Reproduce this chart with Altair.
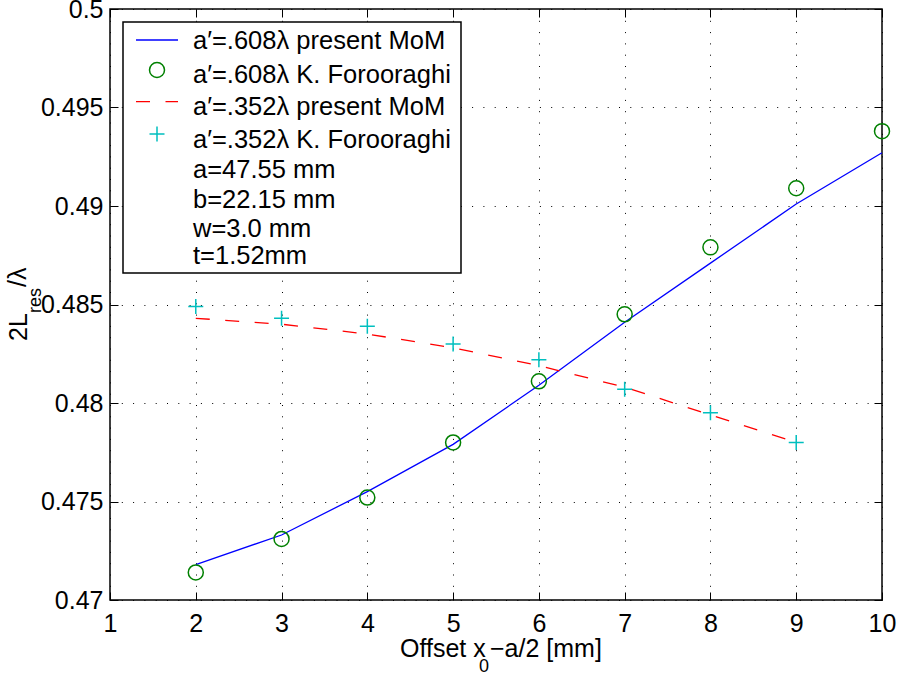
import altair as alt
import pandas as pd

# ---------------- data ----------------
offsets_608 = [2, 3, 4, 5, 6, 7, 8, 9, 10]
mom_608 = [0.4718, 0.4733, 0.4755, 0.4779, 0.4809, 0.4841, 0.4871, 0.4901, 0.4927]
kf_608 = [0.4714, 0.4731, 0.4752, 0.4780, 0.4811, 0.4845, 0.4879, 0.4909, 0.4938]

offsets_352 = [2, 3, 4, 5, 6, 7, 8, 9]
mom_352 = [0.4843, 0.4840, 0.4835, 0.4828, 0.4819, 0.4808, 0.4794, 0.4780]
kf_352 = [0.4849, 0.4843, 0.4839, 0.4830, 0.4822, 0.4807, 0.4795, 0.4780]

x_ticks = [1, 2, 3, 4, 5, 6, 7, 8, 9, 10]
y_ticks = [0.47, 0.475, 0.48, 0.485, 0.49, 0.495, 0.5]
x_domain = [1, 10]
y_domain = [0.47, 0.5]

legend_labels = [
    "a′=.608λ present MoM",
    "a′=.608λ K. Forooraghi",
    "a′=.352λ present MoM",
    "a′=.352λ K. Forooraghi",
    "a=47.55 mm",
    "b=22.15 mm",
    "w=3.0 mm",
    "t=1.52mm",
]
# axis titles, split into normal / subscript pieces (MATLAB TeX style)
x_title_parts = ["Offset x", "0", "−a/2 [mm]"]
y_title_parts = ["2L", "res", "/λ"]

# ---------------- layout / style ----------------
FONT = "Liberation Sans"
FS = 25
FS_LEG = 25.5
FS_SUB = 18
W, H = 772, 591
BLUE, GREEN, RED, CYAN = "#0000FF", "#008000", "#FF0000", "#00BFBF"
PLUS = "M-1,0H1M0,-1V1"
legend_baselines = [40.3, 73.7, 106, 138.7, 169.3, 199.3, 227.7, 255]
# (x, y baseline, font size) of each title piece, in plot pixels
x_title_pos = [(290, 647.5, FS), (369, 663, FS_SUB), (380, 647.5, FS)]
y_title_pos = [(-83, 332, FS), (-69, 304, FS_SUB), (-84, 278, FS)]

df608 = pd.DataFrame({"offset": offsets_608, "mom": mom_608, "kf": kf_608})
df352 = pd.DataFrame({"offset": offsets_352, "mom": mom_352, "kf": kf_352})
one = pd.DataFrame({"k": [0]})

xs = alt.Scale(domain=x_domain, nice=False, zero=False)
ys = alt.Scale(domain=y_domain, nice=False, zero=False)

main_x = alt.Axis(
    orient="bottom", values=x_ticks, format="d",
    grid=True, gridColor="#000", gridDash=[1, 10.3], gridWidth=1, gridOpacity=1,
    ticks=False, tickSize=0, domain=False,
    labelFont=FONT, labelFontSize=FS, labelColor="#000", labelPadding=11.5,
    labelFlush=False, labelOverlap=False, title="",
)
main_y = alt.Axis(
    orient="left", values=y_ticks, format=".3~f",
    grid=True, gridColor="#000", gridDash=[1, 10.3], gridWidth=1, gridOpacity=1,
    ticks=False, tickSize=0, domain=False,
    labelFont=FONT, labelFontSize=FS, labelColor="#000", labelPadding=7,
    labelFlush=False, labelOverlap=False, labelBaseline="middle", title="",
)


def tick_axis(orient, vals):
    return alt.Axis(
        orient=orient, values=vals, offset=-8, ticks=True, tickSize=8,
        tickColor="#000", tickWidth=1, labels=False, grid=False, domain=False,
        title="",
    )


l_mom608 = alt.Chart(df608).mark_line(color=BLUE, strokeWidth=1.3).encode(
    x=alt.X("offset:Q", scale=xs, axis=main_x),
    y=alt.Y("mom:Q", scale=ys, axis=main_y),
)
l_kf608 = alt.Chart(df608).mark_point(
    shape="circle", size=225, filled=False, color=GREEN, strokeWidth=1.5, opacity=1
).encode(
    x=alt.X("offset:Q", scale=xs, axis=tick_axis("bottom", x_ticks)),
    y=alt.Y("kf:Q", scale=ys, axis=tick_axis("left", y_ticks)),
)
l_mom352 = alt.Chart(df352).mark_line(
    color=RED, strokeWidth=1.3, strokeDash=[14, 15.5]
).encode(
    x=alt.X("offset:Q", scale=xs, axis=tick_axis("top", x_ticks)),
    y=alt.Y("mom:Q", scale=ys, axis=tick_axis("right", y_ticks)),
)
l_kf352 = alt.Chart(df352).mark_point(
    shape=PLUS, size=225, filled=False, color=CYAN, strokeWidth=1.5, opacity=1
).encode(
    x=alt.X("offset:Q", scale=xs, axis=None),
    y=alt.Y("kf:Q", scale=ys, axis=None),
)

# ---------------- legend (MATLAB style box) ----------------
box = alt.Chart(one).mark_rect(fill="white", stroke="#000", strokeWidth=1.5).encode(
    x=alt.value(13), x2=alt.value(351), y=alt.value(13), y2=alt.value(264)
)
sym_line = alt.Chart(one).mark_rule(color=BLUE, strokeWidth=1.3).encode(
    x=alt.value(26), x2=alt.value(68), y=alt.value(31)
)
sym_circle = alt.Chart(one).mark_point(
    shape="circle", size=225, filled=False, color=GREEN, strokeWidth=1.5, opacity=1
).encode(x=alt.value(47), y=alt.value(61))
sym_dash = alt.Chart(one).mark_rule(
    color=RED, strokeWidth=1.3, strokeDash=[14, 15.5]
).encode(x=alt.value(26), x2=alt.value(68), y=alt.value(92.7))
sym_plus = alt.Chart(one).mark_point(
    shape=PLUS, size=225, filled=False, color=CYAN, strokeWidth=1.5, opacity=1
).encode(x=alt.value(47), y=alt.value(125))

texts = [
    alt.Chart(one).mark_text(
        text=lab, font=FONT, fontSize=FS_LEG, align="left", baseline="alphabetic",
        color="#000"
    ).encode(x=alt.value(83), y=alt.value(yb))
    for lab, yb in zip(legend_labels, legend_baselines)
]

# ---------------- axis titles ----------------
xt = [
    alt.Chart(one).mark_text(
        text=part, font=FONT, fontSize=fs, align="left", baseline="alphabetic", color="#000"
    ).encode(x=alt.value(px), y=alt.value(py))
    for part, (px, py, fs) in zip(x_title_parts, x_title_pos)
]
yt = [
    alt.Chart(one).mark_text(
        text=part, font=FONT, fontSize=fs, align="left", baseline="alphabetic",
        angle=270, color="#000"
    ).encode(x=alt.value(px), y=alt.value(py))
    for part, (px, py, fs) in zip(y_title_parts, y_title_pos)
]

chart = (
    alt.layer(l_mom608, l_kf608, l_mom352, l_kf352, box, sym_line, sym_circle,
              sym_dash, sym_plus, *texts, *xt, *yt)
    .resolve_scale(x="shared", y="shared")
    .resolve_axis(x="independent", y="independent")
    .properties(
        width=W, height=H,
        autosize=alt.AutoSizeParams(type="none"),
        padding={"left": 110, "top": 9, "right": 17, "bottom": 79},
        background="white",
    )
    .configure_view(stroke="#000", strokeWidth=1.5)
)

chart.save("out.html", embed_options={"renderer": "svg", "actions": False})
